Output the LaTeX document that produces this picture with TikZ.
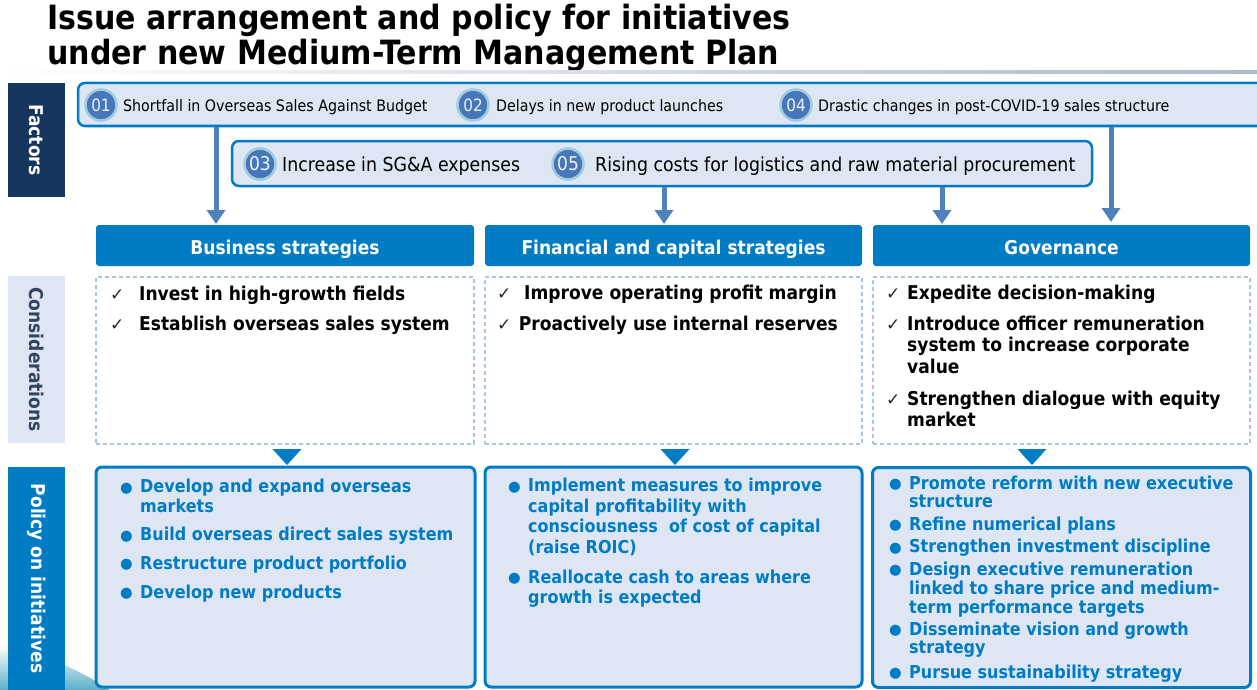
\documentclass[tikz,border=0pt]{standalone}
\usepackage{fontspec}
\setmainfont{DejaVu Sans}[FakeStretch=0.9]
\newfontfamily\symfont{DejaVu Sans}
\usetikzlibrary{arrows.meta}
\definecolor{navy}{RGB}{23,54,93}
\definecolor{mainblue}{RGB}{0,124,196}
\definecolor{paleblue}{RGB}{221,230,242}
\definecolor{arrowblue}{RGB}{79,129,189}
\definecolor{dashblue}{RGB}{170,195,225}
\definecolor{labelslate}{RGB}{50,68,98}
\definecolor{dotblue}{RGB}{72,118,186}
\definecolor{ringblue}{RGB}{160,205,222}
\definecolor{numwhite}{RGB}{235,242,250}
\definecolor{tickgray}{RGB}{40,40,40}
\definecolor{wave}{RGB}{90,175,200}
\definecolor{ruleblue}{RGB}{170,185,205}

\newcommand{\tickitem}[2]{\makebox[#1][l]{\symfont\fontsize{17}{17}\selectfont\color{tickgray}✓}\begin{tabular}[t]{@{}l@{}}#2\end{tabular}}
\newcommand{\dotitem}[1]{\makebox[20pt][l]{\symfont\fontsize{14.5}{14.5}\selectfont\raisebox{0.5pt}{●}}\begin{tabular}[t]{@{}l@{}}#1\end{tabular}}

\begin{document}
\begin{tikzpicture}[x=1pt, y=-1pt,
    sidelabel/.style={rotate=-90, inner sep=0, font=\bfseries\fontsize{19}{19}\selectfont},
    factbox/.style={draw=mainblue, line width=2.5pt, fill=paleblue, rounded corners=7pt, inner sep=0},
    numdot/.style={circle, fill=dotblue, draw=ringblue, line width=2.5pt, minimum size=31pt, inner sep=0, text=numwhite},
    facttext/.style={anchor=base west, inner sep=0},
    factarrow/.style={arrowblue, line width=5pt, -{Triangle[width=18pt,length=14pt]}},
    headbox/.style={fill=mainblue, rounded corners=3pt, minimum height=41pt, inner sep=0, text height=17pt, text depth=0pt, text=white, font=\bfseries\fontsize{19}{19}\selectfont},
    consbox/.style={draw=dashblue, line width=1.5pt, dash pattern=on 4pt off 3pt, fill=white, minimum height=167pt, inner sep=0},
    polbox/.style={draw=mainblue, line width=3pt, fill=paleblue, rounded corners=6pt, minimum height=220pt, inner sep=0},
    consitem/.style={anchor=base west, inner sep=0, font=\bfseries\fontsize{19}{21.7}\selectfont},
    politem/.style={anchor=base west, inner sep=0, text=mainblue, font=\bfseries\fontsize{17.8}{20.2}\selectfont}]

\useasboundingbox (0,0) rectangle (1257,690);
\fill[white] (0,0) rectangle (1257,690);

\node[anchor=base west, inner sep=0, font=\bfseries\fontsize{33.4}{33.4}\selectfont] (title1) at (47,30) {Issue arrangement and policy for initiatives};
\node[anchor=base west, inner sep=0, font=\bfseries\fontsize{33.4}{33.4}\selectfont] (title2) at (47,65) {under new Medium-Term Management Plan};
\shade[left color=white, right color=ruleblue] (0,71) rectangle (1257,74);

\shade[top color=white, bottom color=wave] (0,645) .. controls (40,652) and (80,670) .. (110,690) -- (0,690) -- cycle;

\node[sidelabel, fill=navy, text=white, minimum width=114pt, minimum height=57pt] (lfact) at (36.5,140) {Factors};
\node[sidelabel, fill=paleblue, text=labelslate, minimum width=167pt, minimum height=57pt] (lcons) at (36.5,359.5) {Considerations};
\node[sidelabel, fill=mainblue, text=white, minimum width=223pt, minimum height=57pt] (lpol) at (36.5,578.5) {Policy on initiatives};

\node[factbox, minimum width=1190pt, minimum height=43pt] (f1) at (673,104.5) {};
\node[factbox, minimum width=860pt, minimum height=45pt] (f2) at (662,163.5) {};

\node[numdot, font=\fontsize{17}{17}\selectfont] (n01) at (101,105) {01};
\node[facttext, font=\fontsize{15.8}{15.8}\selectfont] (t01) at (123,111.5) {Shortfall in Overseas Sales Against Budget};
\node[numdot, font=\fontsize{17}{17}\selectfont] (n02) at (473,105) {02};
\node[facttext, font=\fontsize{15.8}{15.8}\selectfont] (t02) at (496,111.5) {Delays in new product launches};
\node[numdot, font=\fontsize{17}{17}\selectfont] (n04) at (796,105) {04};
\node[facttext, font=\fontsize{15.8}{15.8}\selectfont] (t04) at (818,111.5) {Drastic changes in post-COVID-19 sales structure};
\node[numdot, font=\fontsize{19}{19}\selectfont] (n03) at (260,164) {03};
\node[facttext, font=\fontsize{19.3}{19.3}\selectfont] (t03) at (282,171) {Increase in SG\&A expenses};
\node[numdot, font=\fontsize{19}{19}\selectfont] (n05) at (568,164) {05};
\node[facttext, font=\fontsize{19.3}{19.3}\selectfont] (t05) at (595,171) {Rising costs for logistics and raw material procurement};

\node[headbox, minimum width=378pt] (bh) at (285,245.5) {Business strategies};
\node[headbox, minimum width=377pt] (fh) at (673.5,245.5) {Financial and capital strategies};
\node[headbox, minimum width=377pt] (gh) at (1061.5,245.5) {Governance};

\coordinate (a1) at (216,224);
\coordinate (a2) at (664,224);
\coordinate (a3) at (942,224);
\coordinate (a4) at (1111,222);
\draw[factarrow] (f1.south -| a1) -- (a1);
\draw[factarrow] (f2.south -| a2) -- (a2);
\draw[factarrow] (f2.south -| a3) -- (a3);
\draw[factarrow] (f1.south -| a4) -- (a4);

\node[consbox, minimum width=378pt] (bc) at (285,360.5) {};
\node[consbox, minimum width=377pt] (fc) at (673.5,360.5) {};
\node[consbox, minimum width=377pt] (gc) at (1061.5,360.5) {};

\node[consitem] (bc1) at (110,300) {\tickitem{29pt}{Invest in high-growth fields}};
\node[consitem] (bc2) at (110,330.7) {\tickitem{29pt}{Establish overseas sales system}};
\node[consitem] (fc1) at (497,299.3) {\tickitem{27pt}{Improve operating profit margin}};
\node[consitem] (fc2) at (497,330) {\tickitem{21.7pt}{Proactively use internal reserves}};
\node[consitem] (gc1) at (886,299.3) {\tickitem{21pt}{Expedite decision-making}};
\node[consitem] (gc2) at (886,330) {\tickitem{21pt}{Introduce officer remuneration\\system to increase corporate\\value}};
\node[consitem] (gc3) at (886,405) {\tickitem{21pt}{Strengthen dialogue with equity\\market}};

\fill[mainblue] (272.5,449) -- (301.5,449) -- (287,465) -- cycle;
\fill[mainblue] (660.5,449) -- (689.5,449) -- (675,465) -- cycle;
\fill[mainblue] (1017.5,449) -- (1046.5,449) -- (1032,465) -- cycle;

\node[polbox, minimum width=379pt] (bp) at (285.5,577) {};
\node[polbox, minimum width=377pt] (fp) at (673.5,577) {};
\node[polbox, minimum width=378pt] (gp) at (1061.5,577.5) {};

\node[politem, font=\bfseries\fontsize{17.8}{20}\selectfont] (bp1) at (120,492.7) {\dotitem{Develop and expand overseas\\markets}};
\node[politem] (bp2) at (120,540.7) {\dotitem{Build overseas direct sales system}};
\node[politem] (bp3) at (120,569.3) {\dotitem{Restructure product portfolio}};
\node[politem] (bp4) at (120,598.3) {\dotitem{Develop new products}};

\node[politem, font=\bfseries\fontsize{17.8}{20.5}\selectfont] (fp1) at (508,491.7) {\dotitem{Implement measures to improve\\capital profitability with\\consciousness\ \ of cost of capital\\(raise ROIC)}};
\node[politem, font=\bfseries\fontsize{17.8}{20.5}\selectfont] (fp2) at (508,583.3) {\dotitem{Reallocate cash to areas where\\growth is expected}};

\node[politem, font=\bfseries\fontsize{17.8}{18.3}\selectfont] (gp1) at (889,489.3) {\dotitem{Promote reform with new executive\\structure}};
\node[politem] (gp2) at (889,530) {\dotitem{Refine numerical plans}};
\node[politem] (gp3) at (889,552.7) {\dotitem{Strengthen investment discipline}};
\node[politem, font=\bfseries\fontsize{17.8}{18.3}\selectfont] (gp4) at (889,575) {\dotitem{Design executive remuneration\\linked to share price and medium-\\term performance targets}};
\node[politem, font=\bfseries\fontsize{17.8}{18.3}\selectfont] (gp5) at (889,635) {\dotitem{Disseminate vision and growth\\strategy}};
\node[politem] (gp6) at (889,678.3) {\dotitem{Pursue sustainability strategy}};
\end{tikzpicture}
\end{document}
